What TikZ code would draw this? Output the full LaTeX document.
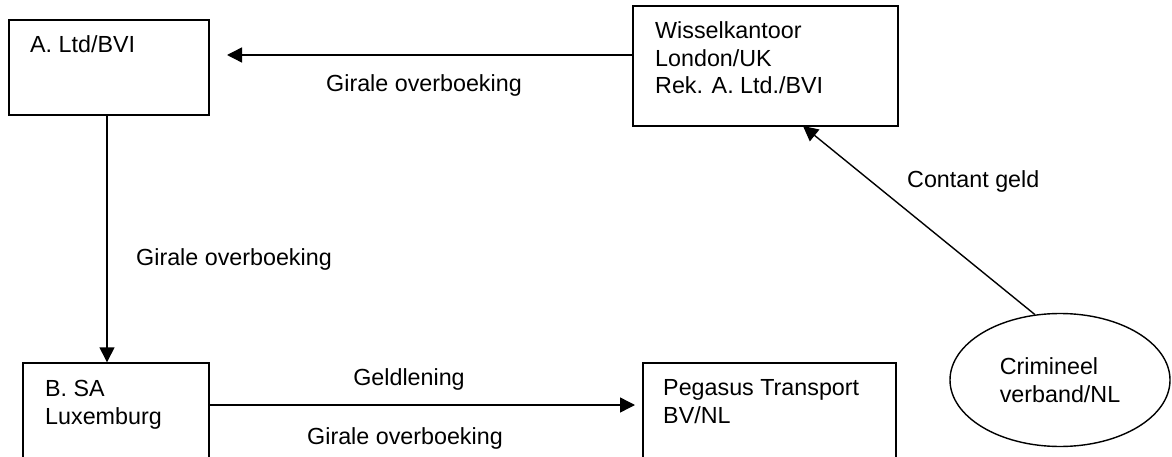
\documentclass[tikz,border=0pt]{standalone}
\usepackage{fontspec}
\setmainfont{Liberation Sans}
\usetikzlibrary{arrows.meta,shapes.geometric}
\begin{document}
\begin{tikzpicture}[x=1pt,y=-1pt,
  lbl/.style={font=\fontsize{23.3}{27.5}\selectfont, inner sep=0pt, anchor=base west, align=left},
  boxnode/.style={draw, line width=1.4pt, inner sep=0pt, rectangle},
  arr/.style={line width=1.4pt, -{Triangle[length=15pt,width=15pt]}},
]
\useasboundingbox (0,0) rectangle (1172,457);
\fill[white] (0,0) rectangle (1172,457);
\clip (0,0) rectangle (1172,457);

% boxes
\node[boxnode, minimum width=200pt, minimum height=95pt] (A) at (109,67.5) {};
\node[boxnode, minimum width=265pt, minimum height=120pt] (W) at (765.5,66) {};
\node[boxnode, minimum width=186pt, minimum height=107pt] (B) at (116,416.5) {};
\node[boxnode, minimum width=253pt, minimum height=107pt] (P) at (769.5,416.5) {};
\node[draw, ellipse, line width=1.4pt, inner sep=0pt, minimum width=220pt, minimum height=133pt,
      font=\fontsize{23.3}{27.5}\selectfont, align=left] (C) at (1060,380) {Crimineel\\verband/NL};

% box texts (anchor = baseline of the last line)
\node[lbl] (Atext) at (30,53) {A. Ltd/BVI};
\node[lbl] (Wtext) at (655,94) {Wisselkantoor\\London/UK\\Rek. A. Ltd./BVI};
\node[lbl] (Btext) at (45,424) {B. SA\\Luxemburg};
\node[lbl] (Ptext) at (663,423) {Pegasus Transport\\BV/NL};

% connector end points
\coordinate (tipA) at (227,55);
\coordinate (vx) at (107,0);
\coordinate (tipP) at (635,405);
\coordinate (tipW) at (803,126);

% connectors
\draw[arr] (W.west |- tipA) -- (tipA);
\draw[arr] (A.south -| vx) -- (B.north -| vx);
\draw[arr] (B.east |- tipP) -- (tipP);
\draw[arr] (C.111) -- (tipW);

% labels
\node[lbl] (l1) at (326,92) {Girale overboeking};
\node[lbl] (l2) at (136,265) {Girale overboeking};
\node[lbl, anchor=base] (l3) at (409,385) {Geldlening};
\node[lbl] (l4) at (307,444) {Girale overboeking};
\node[lbl] (l5) at (907,188) {Contant geld};
\end{tikzpicture}
\end{document}
